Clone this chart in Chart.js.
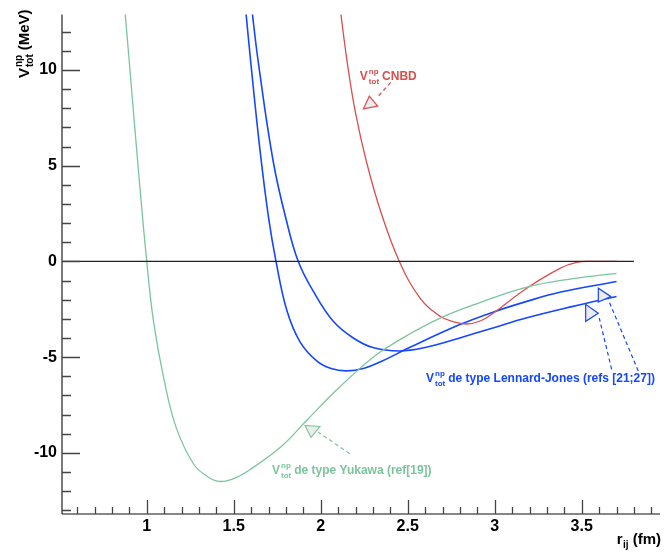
<!DOCTYPE html>
<html>
<head>
<meta charset="utf-8">
<script src="https://cdn.jsdelivr.net/npm/chart.js@4.4.1/dist/chart.umd.min.js"></script>
<style>
  html, body { margin: 0; padding: 0; background: #fff; }
  #wrap { width: 666px; height: 557px; }
</style>
</head>
<body>
<div id="wrap"><canvas id="pot" width="666" height="557"></canvas></div>
<script>
// V_tot^np (MeV) against r_ij (fm)

const yukawaR = [0.87, 0.90, 0.95, 1.00, 1.04, 1.10, 1.17, 1.27, 1.35, 1.42, 1.50, 1.59, 1.77, 1.92, 2.07, 2.23, 2.34, 2.50, 2.69, 2.90, 3.18, 3.45, 3.70];
const yukawaV = [13.6, 10.4, 5.0, 0, -3.2, -6.2, -8.7, -10.6, -11.25, -11.5, -11.35, -10.9, -9.7, -8.3, -6.9, -5.55, -4.75, -3.85, -2.95, -2.2, -1.35, -0.9, -0.62];

const ljAR = [1.565, 1.598, 1.65, 1.70, 1.743, 1.805, 1.881, 1.977, 2.06, 2.15, 2.25, 2.35, 2.51, 2.80, 2.99, 3.18, 3.38, 3.70];
const ljAV = [13.5, 10.4, 5.9, 2.3, 0, -2.55, -4.2, -5.2, -5.6, -5.72, -5.58, -5.22, -4.5, -3.3, -2.65, -2.1, -1.6, -1.05];

const ljBR = [1.60, 1.642, 1.728, 1.805, 1.871, 1.958, 2.072, 2.187, 2.30, 2.45, 2.60, 2.80, 3.00, 3.18, 3.45, 3.70];
const ljBV = [13.5, 10.36, 5.17, 2.06, 0, -1.57, -3.13, -4.0, -4.5, -4.68, -4.5, -4.0, -3.45, -2.96, -2.35, -1.83];

const cnbdR = [2.108, 2.153, 2.20, 2.264, 2.346, 2.452, 2.571, 2.686, 2.76, 2.839, 2.92, 2.992, 3.184, 3.375, 3.471, 3.55, 3.70];
const cnbdV = [13.5, 10.36, 7.76, 5.17, 2.57, 0, -1.92, -2.87, -3.15, -3.27, -3.1, -2.7, -1.4, -0.36, -0.05, 0, 0];

const zeroR = [0.5, 3.8];
const zeroV = [0, 0];

const RED = '#d94f4f';
const BLUE = '#1447ff';
const GREEN = '#7cc49c';
const FONT = '"Liberation Sans", Arial, Helvetica, sans-serif';

const pts = (xs, ys) => xs.map((x, i) => ({ x, y: ys[i] }));

function curve(xs, ys, color, width) {
  return {
    data: pts(xs, ys),
    borderColor: color,
    borderWidth: width,
    pointRadius: 0,
    tension: 0.4,
    fill: false,
  };
}

// labels + dashed arrows: text anchor and arrow ends in data units,
// arrow-head corners as pixel offsets from the dash end
const notes = [
  { color: RED, x: 2.225, y: 9.48, text: 'CNBD',
    arrows: [{ from: [2.402, 9.362], to: [2.331, 8.635], head: [[-15, 12.7], [-9, 0], [-0.6, 10]] }] },
  { color: BLUE, x: 2.605, y: -6.29, text: 'de type Lennard-Jones (refs [21;27])',
    arrows: [
      { from: [3.672, -5.636], to: [3.601, -2.958], head: [[-13.6, -13.7], [-13.6, 3.3], [-1, -4.7]] },
      { from: [3.825, -5.724], to: [3.653, -2.003], head: [[-10, -11.6], [-10, 2.4], [2.4, -3.3]] },
    ] },
  { color: GREEN, x: 1.72, y: -11.12, text: 'de type Yukawa (ref[19])',
    arrows: [{ from: [2.167, -10.047], to: [1.986, -8.926], head: [[-13.3, -6.7], [1.7, -5.7], [-7.3, 5.3]] }] },
];

function drawVtot(ctx, x, y, big, small, supDy, subDy) {
  ctx.font = `bold ${big}px ${FONT}`;
  ctx.fillText('V', x, y);
  const w = ctx.measureText('V').width;
  ctx.font = `bold ${small}px ${FONT}`;
  ctx.fillText('np', x + w + 1, y + supDy);
  ctx.fillText('tot', x + w + 1, y + subDy);
  const sw = Math.max(ctx.measureText('np').width, ctx.measureText('tot').width);
  return x + w + 1 + sw;
}

function drawArrow(ctx, x0, y0, x1, y1, head, color) {
  ctx.save();
  ctx.strokeStyle = color;
  ctx.lineWidth = 1.2;
  ctx.setLineDash([4, 3]);
  ctx.beginPath();
  ctx.moveTo(x0, y0);
  ctx.lineTo(x1, y1);
  ctx.stroke();
  ctx.setLineDash([]);
  ctx.beginPath();
  head.forEach(([dx, dy], i) => {
    if (i === 0) ctx.moveTo(x1 + dx, y1 + dy);
    else ctx.lineTo(x1 + dx, y1 + dy);
  });
  ctx.closePath();
  ctx.fillStyle = '#ececec';
  ctx.fill();
  ctx.stroke();
  ctx.restore();
}

const decorPlugin = {
  id: 'decor',
  afterDraw(chart) {
    const { ctx, chartArea: a, scales: { x, y } } = chart;
    ctx.save();

    // axis lines
    ctx.strokeStyle = '#7a7a7a';
    ctx.lineWidth = 2;
    ctx.beginPath();
    ctx.moveTo(a.left, a.top);
    ctx.lineTo(a.left, a.bottom);
    ctx.stroke();
    ctx.strokeStyle = '#111';
    ctx.lineWidth = 1.2;
    ctx.beginPath();
    ctx.moveTo(a.left, a.bottom);
    ctx.lineTo(a.right, a.bottom);
    ctx.stroke();

    // inward ticks
    ctx.strokeStyle = '#444';
    ctx.lineWidth = 1.3;
    ctx.beginPath();
    for (let v = Math.ceil(y.min); v <= y.max; v++) {
      const py = Math.round(y.getPixelForValue(v)) + 0.5;
      const l = v % 5 === 0 ? 18 : 9;
      ctx.moveTo(a.left, py);
      ctx.lineTo(a.left + l, py);
    }
    for (let k = Math.ceil(x.min * 10); k <= x.max * 10; k++) {
      const px = Math.round(x.getPixelForValue(k / 10)) + 0.5;
      const l = k % 5 === 0 ? 14 : 7;
      ctx.moveTo(px, a.bottom);
      ctx.lineTo(px, a.bottom - l);
    }
    ctx.stroke();

    // axis titles
    ctx.fillStyle = '#000';
    ctx.textBaseline = 'alphabetic';
    ctx.textAlign = 'left';
    ctx.save();
    ctx.translate(28.5, 78);
    ctx.rotate(-Math.PI / 2);
    const e = drawVtot(ctx, 0, 0, 15, 10, -7, 4);
    ctx.font = `bold 15px ${FONT}`;
    ctx.fillText('(MeV)', e + 4, 0);
    ctx.restore();

    ctx.font = `bold 15px ${FONT}`;
    ctx.fillText('r', 616.7, 544.3);
    ctx.font = `bold 10px ${FONT}`;
    ctx.fillText('ij', 623, 548);
    ctx.font = `bold 15px ${FONT}`;
    ctx.fillText('(fm)', 632.7, 544.3);

    // annotations
    notes.forEach(n => {
      ctx.fillStyle = n.color;
      const px = x.getPixelForValue(n.x), py = y.getPixelForValue(n.y);
      const e2 = drawVtot(ctx, px, py, 12, 8, -6, 4);
      ctx.font = `bold 12px ${FONT}`;
      ctx.fillText(n.text, e2 + 3, py);
      n.arrows.forEach(ar => {
        drawArrow(ctx,
          x.getPixelForValue(ar.from[0]), y.getPixelForValue(ar.from[1]),
          x.getPixelForValue(ar.to[0]), y.getPixelForValue(ar.to[1]),
          ar.head, n.color);
      });
    });
    ctx.restore();
  }
};

new Chart(document.getElementById('pot'), {
  type: 'line',
  data: {
    datasets: [
      curve(zeroR, zeroV, '#222', 1.2),
      curve(yukawaR, yukawaV, GREEN, 1.3),
      curve(cnbdR, cnbdV, RED, 1.3),
      curve(ljAR, ljAV, BLUE, 1.6),
      curve(ljBR, ljBV, BLUE, 1.6),
    ]
  },
  options: {
    responsive: false,
    animation: false,
    layout: { padding: { top: 11, right: 6, left: 0, bottom: 0 } },
    plugins: { legend: { display: false }, tooltip: { enabled: false } },
    scales: {
      x: {
        type: 'linear',
        min: 0.513,
        max: 3.95,
        grid: { display: false, drawTicks: false },
        border: { display: false },
        ticks: {
          stepSize: 0.5,
          includeBounds: false,
          autoSkip: false,
          maxRotation: 0,
          padding: 3,
          color: '#000',
          font: { family: FONT, size: 16, weight: 'bold' },
          callback: (v) => String(Number(v.toFixed(2))),
        },
        afterFit(scale) { scale.height = 43; }
      },
      y: {
        type: 'linear',
        min: -13.2,
        max: 12.9,
        grid: { display: false, drawTicks: false },
        border: { display: false },
        ticks: {
          stepSize: 5,
          includeBounds: false,
          padding: 5,
          color: '#000',
          font: { family: FONT, size: 16, weight: 'bold' },
        },
        afterFit(scale) { scale.width = 62; }
      }
    }
  },
  plugins: [decorPlugin]
});
</script>
</body>
</html>
